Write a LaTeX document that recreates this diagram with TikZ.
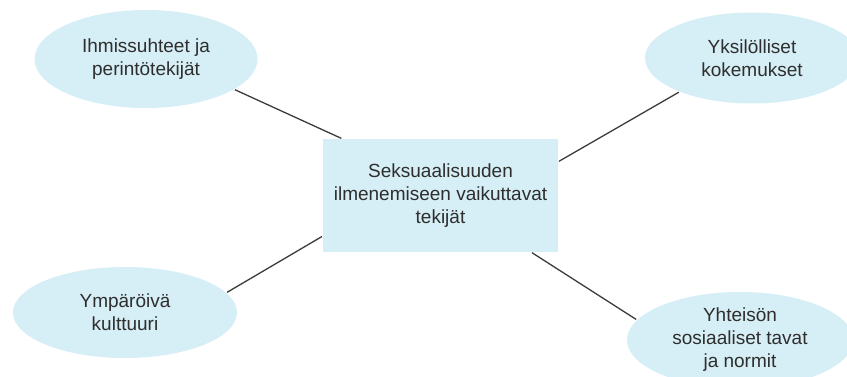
\documentclass[tikz,border=0pt]{standalone}
\usepackage{fontspec}
\setmainfont{Liberation Sans}
\usetikzlibrary{shapes.geometric}
\definecolor{paleblue}{HTML}{D6EEF5}
\definecolor{inkgray}{HTML}{2E2E2E}
\definecolor{linegray}{HTML}{3C3C3C}

\begin{document}
\begin{tikzpicture}[x=1pt,y=1pt,
  factor/.style={ellipse,fill=paleblue,inner sep=0pt,align=center,text=inkgray},
  core/.style={rectangle,fill=paleblue,inner sep=0pt,align=center,text=inkgray,
    minimum width=235pt,minimum height=113pt},
  link/.style={linegray,line width=1.3pt,shorten <=1pt,shorten >=1pt}]
\clip (0,0) rectangle (847,-377);
\fill[white] (0,0) rectangle (847,-377);
\fontsize{19}{23}\selectfont
\node[core] (c) at (440.5,-195.5) {Seksuaalisuuden\\ilmenemiseen vaikuttavat\\tekijät};
\node[factor,minimum width=223pt,minimum height=98pt] (e1) at (146,-59) {Ihmissuhteet ja\\perintötekijät};
\node[factor,minimum width=214pt,minimum height=91pt] (e2) at (752,-58) {Yksilölliset\\kokemukset};
\node[factor,minimum width=224pt,minimum height=91pt] (e3) at (125,-312.5) {Ympäröivä\\kulttuuri};
\node[factor,minimum width=226pt,minimum height=96pt] (e4) at (740,-340) {Yhteisön\\sosiaaliset tavat\\ja normit};
\draw[link] (e1.-19) -- (c.150);
\draw[link] (e2.205) -- (c.16);
\draw[link] (e3.11) -- (c.199);
\draw[link] (e4.169) -- (c.-32);
\end{tikzpicture}
\end{document}
